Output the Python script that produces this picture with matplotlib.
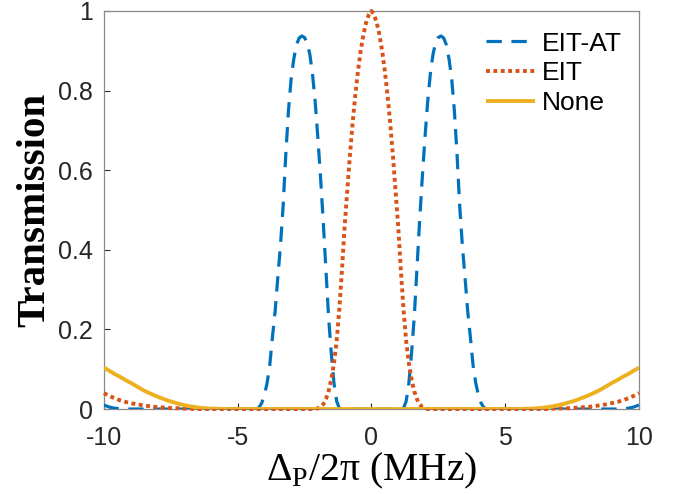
import matplotlib
matplotlib.use("Agg")
import matplotlib.pyplot as plt
import numpy as np

plt.rcParams['font.family'] = ['Liberation Sans', 'DejaVu Sans']
plt.rcParams['mathtext.fontset'] = 'custom'
plt.rcParams['mathtext.rm'] = 'Liberation Serif'
plt.rcParams['axes.unicode_minus'] = False

# detuning, right half (MHz); curves are symmetric about 0
x_half = [0.0, 0.1, 0.2, 0.3, 0.4, 0.5, 0.6, 0.7, 0.8, 0.9,
          1.0, 1.1, 1.2, 1.3, 1.4, 1.5, 1.6, 1.7, 1.8, 1.9,
          2.0, 2.1, 2.2, 2.3, 2.4, 2.5, 2.6, 2.7, 2.8, 2.9,
          3.0, 3.1, 3.2, 3.3, 3.4, 3.5, 3.6, 3.7, 3.8, 3.9,
          4.0, 4.1, 4.2, 4.3, 4.4, 4.5, 4.6,
          4.8, 5.0, 5.2, 5.4, 5.6, 5.8, 6.0, 6.2, 6.4, 6.6, 6.8,
          7.0, 7.2, 7.4, 7.6, 7.8, 8.0, 8.2, 8.4, 8.6, 8.8,
          9.0, 9.2, 9.4, 9.6, 9.8, 10.0]

eit_at_half = [0.0, 0.0, 0.0, 0.0, 0.0, 0.0, 0.0, 0.0, 0.0, 0.0,
               0.0, 0.0, 0.002, 0.02, 0.065, 0.14, 0.23, 0.35, 0.47, 0.58,
               0.68, 0.77, 0.84, 0.89, 0.92, 0.933, 0.937, 0.932, 0.915, 0.88,
               0.83, 0.75, 0.64, 0.51, 0.41, 0.33, 0.245, 0.18, 0.11, 0.065,
               0.035, 0.015, 0.004, 0.0, 0.0, 0.0, 0.0,
               0.0, 0.0, 0.0, 0.0, 0.0, 0.0, 0.0, 0.0, 0.0, 0.0, 0.0,
               0.0, 0.0, 0.0, 0.0, 0.0, 0.0, 0.0, 0.0, 0.0, 0.0,
               0.0, 0.0, 0.001, 0.002, 0.005, 0.010]

eit_half = [1.0, 0.99, 0.97, 0.94, 0.90, 0.85, 0.79, 0.72, 0.64, 0.55,
            0.46, 0.35, 0.25, 0.17, 0.115, 0.075, 0.045, 0.025, 0.012, 0.005,
            0.002, 0.0, 0.0, 0.0, 0.0, 0.0, 0.0, 0.0, 0.0, 0.0,
            0.0, 0.0, 0.0, 0.0, 0.0, 0.0, 0.0, 0.0, 0.0, 0.0,
            0.0, 0.0, 0.0, 0.0, 0.0, 0.0, 0.0,
            0.0, 0.0, 0.0, 0.0, 0.0, 0.0, 0.0, 0.0, 0.0, 0.0, 0.001,
            0.001, 0.002, 0.002, 0.003, 0.004, 0.005, 0.006, 0.008, 0.010, 0.012,
            0.015, 0.018, 0.022, 0.027, 0.033, 0.040]

none_half = [0.0, 0.0, 0.0, 0.0, 0.0, 0.0, 0.0, 0.0, 0.0, 0.0,
             0.0, 0.0, 0.0, 0.0, 0.0, 0.0, 0.0, 0.0, 0.0, 0.0,
             0.0, 0.0, 0.0, 0.0, 0.0, 0.0, 0.0, 0.0, 0.0, 0.0,
             0.0, 0.0, 0.0, 0.0, 0.0, 0.0, 0.0, 0.0, 0.0, 0.0,
             0.0, 0.0, 0.0, 0.0, 0.0, 0.0, 0.0,
             0.0, 0.0, 0.0, 0.0, 0.0, 0.001, 0.001, 0.002, 0.003, 0.005, 0.007,
             0.010, 0.013, 0.017, 0.021, 0.026, 0.031, 0.037, 0.043, 0.050, 0.058,
             0.066, 0.073, 0.081, 0.088, 0.096, 0.104]


def mirror(v, sign=1):
    v = np.asarray(v, dtype=float)
    return np.concatenate([sign * v[:0:-1], v])


x = mirror(x_half, -1)
eit_at = mirror(eit_at_half)
eit = mirror(eit_half)
none = mirror(none_half)

fig = plt.figure(figsize=(6.79, 4.94), dpi=100)
ax = fig.add_axes([0.153, 0.172, 0.788, 0.806])

ax.plot(x, eit_at, color='#0072BD', lw=2.3, dashes=(4.8, 3.0), label='EIT-AT', zorder=3)
ax.plot(x, eit, color='#D95319', lw=2.8, dashes=(1.0, 0.9), label='EIT', zorder=4,
        clip_on=False)
ax.plot(x, none, color='#EDB120', lw=2.8, solid_capstyle='butt', label='None', zorder=5)

ax.set_xlim(-10, 10)
ax.set_ylim(0, 1)
ax.set_xticks([-10, -5, 0, 5, 10])
ax.set_yticks([0, 0.2, 0.4, 0.6, 0.8, 1])
ax.set_yticklabels(['0', '0.2', '0.4', '0.6', '0.8', '1'])
ax.tick_params(direction='in', length=4, width=0.8, labelsize=18, colors='#262626',
               top=False, right=False)
ax.tick_params(axis='x', pad=12)
ax.tick_params(axis='y', pad=8)
for s in ax.spines.values():
    s.set_color('#8a8a8a')
    s.set_linewidth(0.9)

ax.set_xlabel(r'$\Delta_{\rm P}$/2π (MHz)', family='Liberation Serif', fontsize=28.5, labelpad=1)
ax.set_ylabel('Transmission', family='Liberation Serif', fontweight='bold', fontsize=29.5,
              labelpad=3)

ax.legend(loc='upper right', frameon=False, fontsize=19, handlelength=1.85,
          handletextpad=0.25, labelspacing=0.22, borderpad=0, borderaxespad=0,
          bbox_to_anchor=(0.968, 0.948))

fig.savefig('out.png', dpi=100)
